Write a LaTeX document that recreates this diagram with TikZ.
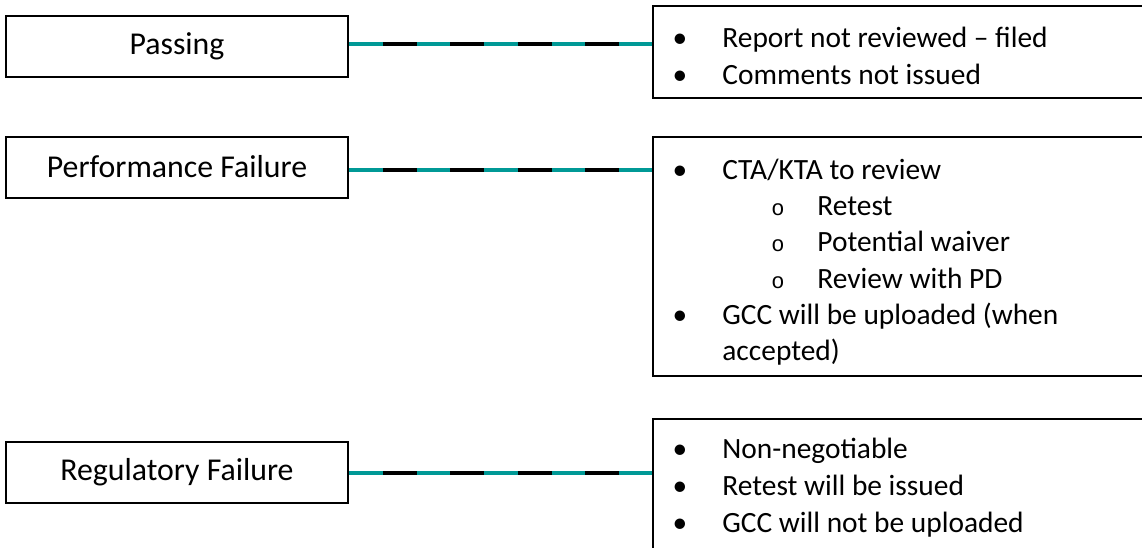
\documentclass[tikz,border=0pt]{standalone}
\usepackage{fontspec}
\setmainfont{Carlito}
\newfontfamily\subbulletfont{Liberation Mono}
\definecolor{linkteal}{RGB}{0,153,150}
\tikzset{
  lbox/.style={draw=black, line width=1pt, fill=white, rectangle,
    minimum width=171pt, minimum height=30.5pt, inner sep=0pt,
    font=\fontsize{15.9}{19}\selectfont},
  rbox/.style={draw=black, line width=1pt, fill=white, rectangle,
    anchor=north west, inner sep=0pt, minimum width=260pt},
  itemtext/.style={anchor=base west, inner sep=0pt,
    font=\fontsize{14.7}{18}\selectfont},
  bulletmark/.style={anchor=base, inner sep=0pt,
    font=\fontsize{14.7}{18}\selectfont},
  subbullet/.style={anchor=base, inner sep=0pt,
    font=\subbulletfont\fontsize{11}{13}\selectfont},
  link/.style={draw=linkteal, line width=2pt,
    postaction={draw=black, dash pattern=on 16.89pt off 16.89pt,
      dash phase=16.89pt}}
}
\begin{document}
\begin{tikzpicture}[x=0.5pt,y=-0.5pt]
\useasboundingbox (0,0) rectangle (1142,547);
\clip (0,0) rectangle (1142,547);

% category boxes
\node[lbox] (l1) at (177,46.5) {Passing};
\node[lbox] (l2) at (177,167) {Performance Failure};
\node[lbox] (l3) at (177,472.5) {Regulatory Failure};

% detail boxes (run past the right edge)
\node[rbox, minimum height=46pt] (r1) at (652,5) {};
\node[rbox, minimum height=119.5pt] (r2) at (652,136) {};
\node[rbox, minimum height=80pt] (r3) at (652,418) {};

% connectors
\draw[link] ([yshift=1.5pt]l1.east) -- ([yshift=1.5pt]l1.east -| r1.west);
\draw[link] ([yshift=-1.3pt]l2.east) -- ([yshift=-1.3pt]l2.east -| r2.west);
\draw[link] (l3.east) -- (l3.east -| r3.west);

% passing
\node[bulletmark] (b11) at (680,47.5) {•};
\node[itemtext] (t11) at (722,47.5) {Report not reviewed – filed};
\node[bulletmark] (b12) at (680,84) {•};
\node[itemtext] (t12) at (722,84) {Comments not issued};

% performance failure
\node[bulletmark] (b21) at (680,179.5) {•};
\node[itemtext] (t21) at (722,179.5) {CTA/KTA to review};
\node[subbullet] (s21) at (778,215.7) {o};
\node[itemtext] (t22) at (817,215.7) {Retest};
\node[subbullet] (s22) at (778,251.9) {o};
\node[itemtext] (t23) at (817,251.9) {Potential waiver};
\node[subbullet] (s23) at (778,288.1) {o};
\node[itemtext] (t24) at (817,288.1) {Review with PD};
\node[bulletmark] (b22) at (680,324.3) {•};
\node[itemtext] (t25) at (722,324.3) {GCC will be uploaded (when};
\node[itemtext] (t26) at (722,360.5) {accepted)};

% regulatory failure
\node[bulletmark] (b31) at (680,458) {•};
\node[itemtext] (t31) at (722,458) {Non-negotiable};
\node[bulletmark] (b32) at (680,495) {•};
\node[itemtext] (t32) at (722,495) {Retest will be issued};
\node[bulletmark] (b33) at (680,532) {•};
\node[itemtext] (t33) at (722,532) {GCC will not be uploaded};
\end{tikzpicture}
\end{document}
